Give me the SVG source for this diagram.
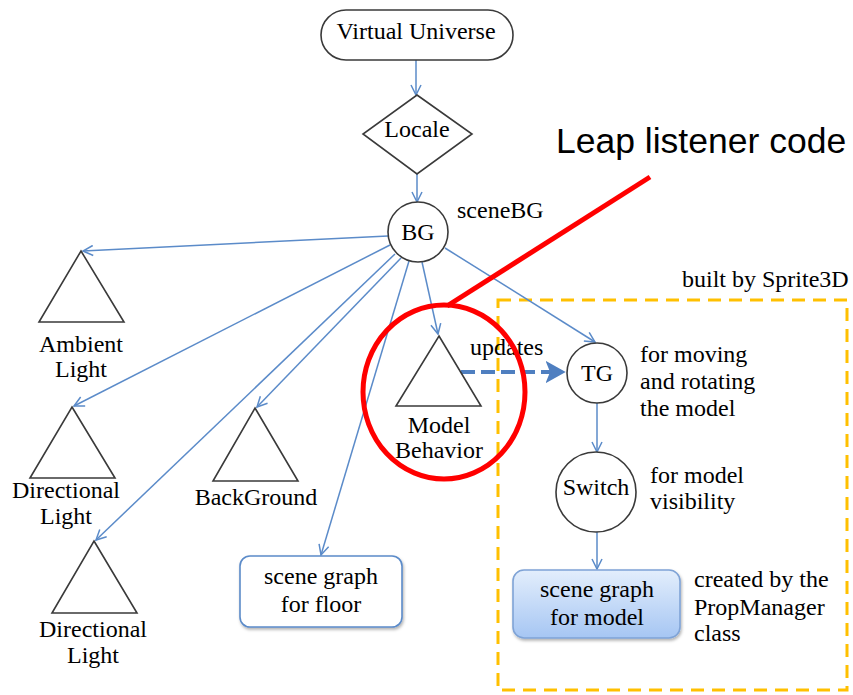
<svg xmlns="http://www.w3.org/2000/svg" width="853" height="695" viewBox="0 0 853 695">
<style>
  .lbl { font-family: "Liberation Serif", "Times New Roman", serif; font-size: 24px; fill: #000; }
  .mid { text-anchor: middle; }
  .shape { fill: #fff; stroke: #3a3a3a; stroke-width: 1.6; }
  .edge { fill: none; stroke: #5b8bc9; stroke-width: 1.5; marker-end: url(#arr); }
  .box { fill: #fff; stroke: #5b8bc9; stroke-width: 1.6; }
</style>
<defs>
  <marker id="arr" viewBox="0 0 12 12" refX="11" refY="6" markerWidth="12" markerHeight="12" markerUnits="userSpaceOnUse" orient="auto">
    <path d="M1,1 L11,6 L1,11" fill="none" stroke="#5b8bc9" stroke-width="1.5"/>
  </marker>
  <marker id="arrThick" viewBox="0 0 12 12" refX="9" refY="6" markerWidth="22" markerHeight="22" markerUnits="userSpaceOnUse" orient="auto">
    <path d="M1,1 L10,6 L1,11 L3,6 Z" fill="#4f7fc0" stroke="#4f7fc0" stroke-width="1"/>
  </marker>
  <linearGradient id="gModel" x1="0" y1="0" x2="0" y2="1">
    <stop offset="0" stop-color="#e3eefc"/>
    <stop offset="1" stop-color="#a6c6f3"/>
  </linearGradient>
  <filter id="shadow" x="-10%" y="-10%" width="130%" height="140%">
    <feDropShadow dx="1" dy="2" stdDeviation="1.5" flood-color="#000" flood-opacity="0.3"/>
  </filter>
</defs>

<rect width="853" height="695" fill="#fff"/>

<!-- Sprite3D dashed region -->
<g id="sprite3d-region">
  <rect x="498" y="300" width="349" height="390" fill="none" stroke="#ffc000" stroke-width="3" stroke-dasharray="13 8"/>
  <text class="lbl" x="682" y="287">built by Sprite3D</text>
</g>

<!-- connectors -->
<g id="connectors">
  <line class="edge" x1="416" y1="60" x2="416" y2="95"/>
  <line class="edge" x1="417" y1="174" x2="417" y2="202"/>
  <line class="edge" x1="388" y1="236" x2="83" y2="251"/>
  <line class="edge" x1="390" y1="245" x2="74" y2="406"/>
  <line class="edge" x1="395" y1="254" x2="96" y2="540"/>
  <line class="edge" x1="401" y1="258" x2="257" y2="407"/>
  <line class="edge" x1="409" y1="261" x2="321" y2="555"/>
  <line class="edge" x1="422" y1="262" x2="438" y2="334"/>
  <line class="edge" x1="445" y1="248" x2="595" y2="342"/>
  <line class="edge" x1="597" y1="403" x2="597" y2="452"/>
  <line class="edge" x1="597" y1="532" x2="597" y2="569"/>
  <line x1="461" y1="372" x2="562" y2="372" stroke="#4f7fc0" stroke-width="4" stroke-dasharray="14 6" marker-end="url(#arrThick)"/>
  <text class="lbl" x="470" y="355">updates</text>
</g>

<g id="virtual-universe">
  <rect class="shape" x="321" y="10" width="192" height="50" rx="25"/>
  <text class="lbl mid" x="416" y="39">Virtual Universe</text>
</g>

<g id="locale">
  <polygon class="shape" points="417,95 472,134 417,174 363,134"/>
  <text class="lbl mid" x="417" y="137">Locale</text>
</g>

<g id="bg">
  <circle class="shape" cx="418" cy="232" r="30"/>
  <text class="lbl mid" x="418" y="240">BG</text>
  <text class="lbl" x="457" y="218">sceneBG</text>
</g>

<g id="ambient-light">
  <polygon class="shape" points="81,251 124,322 39,322"/>
  <text class="lbl mid" x="81" y="352">Ambient</text>
  <text class="lbl mid" x="81" y="377">Light</text>
</g>

<g id="directional-light-1">
  <polygon class="shape" points="72,407 115,478 30,478"/>
  <text class="lbl mid" x="66" y="498">Directional</text>
  <text class="lbl mid" x="66" y="524">Light</text>
</g>

<g id="directional-light-2">
  <polygon class="shape" points="94,541 137,613 52,613"/>
  <text class="lbl mid" x="93" y="637">Directional</text>
  <text class="lbl mid" x="93" y="663">Light</text>
</g>

<g id="background">
  <polygon class="shape" points="255,408 298,481 213,481"/>
  <text class="lbl mid" x="256" y="505">BackGround</text>
</g>

<g id="scene-graph-floor">
  <rect class="box" x="240" y="556" width="162" height="71" rx="10" filter="url(#shadow)"/>
  <text class="lbl mid" x="321" y="584">scene graph</text>
  <text class="lbl mid" x="321" y="612">for floor</text>
</g>

<g id="model-behavior">
  <polygon class="shape" points="439,336 481,406 396,406"/>
  <text class="lbl mid" x="439" y="433">Model</text>
  <text class="lbl mid" x="439" y="458">Behavior</text>
</g>

<g id="tg">
  <circle class="shape" cx="597" cy="373" r="30"/>
  <text class="lbl mid" x="597" y="381">TG</text>
  <text class="lbl" x="640" y="362">for moving</text>
  <text class="lbl" x="640" y="389">and rotating</text>
  <text class="lbl" x="640" y="416">the model</text>
</g>

<g id="switch">
  <circle class="shape" cx="596" cy="492" r="40"/>
  <text class="lbl mid" x="596" y="495">Switch</text>
  <text class="lbl" x="650" y="483">for model</text>
  <text class="lbl" x="650" y="509">visibility</text>
</g>

<g id="scene-graph-model">
  <rect x="513" y="570" width="167" height="68" rx="11" fill="url(#gModel)" stroke="#7fa3d6" stroke-width="1.6" filter="url(#shadow)"/>
  <text class="lbl mid" x="597" y="597">scene graph</text>
  <text class="lbl mid" x="597" y="625">for model</text>
  <text class="lbl" x="694" y="587">created by the</text>
  <text class="lbl" x="694" y="615">PropManager</text>
  <text class="lbl" x="694" y="641">class</text>
</g>

<g id="leap-annotation">
  <line x1="650" y1="177" x2="447" y2="306" stroke="#ff0000" stroke-width="5"/>
  <ellipse cx="444" cy="392" rx="81" ry="87" fill="none" stroke="#ff0000" stroke-width="5"/>
  <text x="556" y="153" font-family="Liberation Sans, Arial, sans-serif" font-size="35.5" fill="#000">Leap listener code</text>
</g>
</svg>
